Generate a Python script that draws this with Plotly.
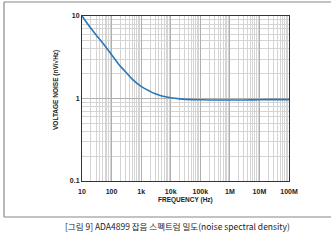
import plotly.graph_objects as go

freq_hz = [10, 20, 30, 50, 100, 200, 300, 500, 1e3, 2e3, 3e3, 5e3, 1e4, 2e4, 5e4,
           1e5, 3e5, 1e6, 3e6, 1e7, 3e7, 1e8]
noise_nv = [10, 7.1, 5.9, 4.7, 3.4, 2.45, 2.1, 1.72, 1.4, 1.22, 1.14, 1.07, 1.02, 0.99, 0.97,
            0.965, 0.96, 0.96, 0.96, 0.965, 0.97, 0.97]

x_tickvals = [10, 100, 1e3, 1e4, 1e5, 1e6, 1e7, 1e8]
x_ticktext = ["10", "100", "1k", "10k", "100k", "1M", "10M", "100M"]
y_tickvals = [0.1, 1, 10]
y_ticktext = ["0.1", "1", "10"]

W, H = 331, 243
L, R, T, B = 82, 42, 16, 62
pw, ph = W - L - R, H - T - B

def px(x):
    return (x - L) / pw

def py(y):
    return (H - B - y) / ph

fig = go.Figure()
fig.add_trace(go.Scatter(x=freq_hz, y=noise_nv, mode="lines",
                         line=dict(color="#2b78b8", width=1.6, shape="spline"),
                         hoverinfo="skip", showlegend=False))

tickfont = dict(family="Liberation Sans", size=7, color="#222222")
fig.update_xaxes(type="log", range=[1, 8], tickvals=x_tickvals,
                 ticktext=["<b>%s</b>" % t for t in x_ticktext],
                 tickfont=tickfont, showgrid=True, gridcolor="#b0b0b0", gridwidth=1,
                 minor=dict(dtick="D1", showgrid=True, gridcolor="#d4d4d4", gridwidth=1),
                 showline=True, linecolor="#333333", linewidth=1, mirror=True,
                 ticks="outside", ticklen=4, tickcolor="rgba(0,0,0,0)", zeroline=False)
fig.update_yaxes(type="log", range=[-1, 1], tickvals=y_tickvals,
                 ticktext=["<b>%s</b>" % t for t in y_ticktext],
                 tickfont=tickfont, showgrid=True, gridcolor="#b0b0b0", gridwidth=1,
                 minor=dict(dtick="D1", showgrid=True, gridcolor="#d4d4d4", gridwidth=1),
                 showline=True, linecolor="#333333", linewidth=1, mirror=True,
                 ticks="", ticklen=0, zeroline=False)

fig.add_annotation(text="<b>FREQUENCY (Hz)</b>", xref="paper", yref="paper",
                   x=px(185), y=py(200), xanchor="center", yanchor="middle", showarrow=False,
                   font=dict(family="Liberation Sans", size=6.5, color="#222222"))
fig.add_annotation(text="<b>VOLTAGE NOISE (nV/√Hz)</b>", xref="paper", yref="paper",
                   x=px(56), y=py(90), xanchor="center", yanchor="middle",
                   textangle=-90, showarrow=False,
                   font=dict(family="Liberation Sans", size=6.5, color="#222222"))
fig.add_annotation(text="[그림 9] ADA4899 잡음 스펙트럼 밀도(noise spectral density)",
                   xref="paper", yref="paper", x=px(63), y=py(226),
                   xanchor="left", yanchor="middle", showarrow=False,
                   font=dict(family="Noto Sans CJK KR", size=8.5, color="#222222"))

box = dict(color="#888888", width=1.2)
fig.add_shape(type="line", xref="paper", yref="paper", x0=px(4), x1=px(332),
              y0=py(2), y1=py(2), line=box)
fig.add_shape(type="line", xref="paper", yref="paper", x0=px(4), x1=px(332),
              y0=py(217), y1=py(217), line=box)
fig.add_shape(type="line", xref="paper", yref="paper", x0=px(4), x1=px(4),
              y0=py(2), y1=py(217), line=box)

fig.update_layout(width=W, height=H, margin=dict(l=L, r=R, t=T, b=B),
                  paper_bgcolor="white", plot_bgcolor="white")

fig.write_html("out.html")
